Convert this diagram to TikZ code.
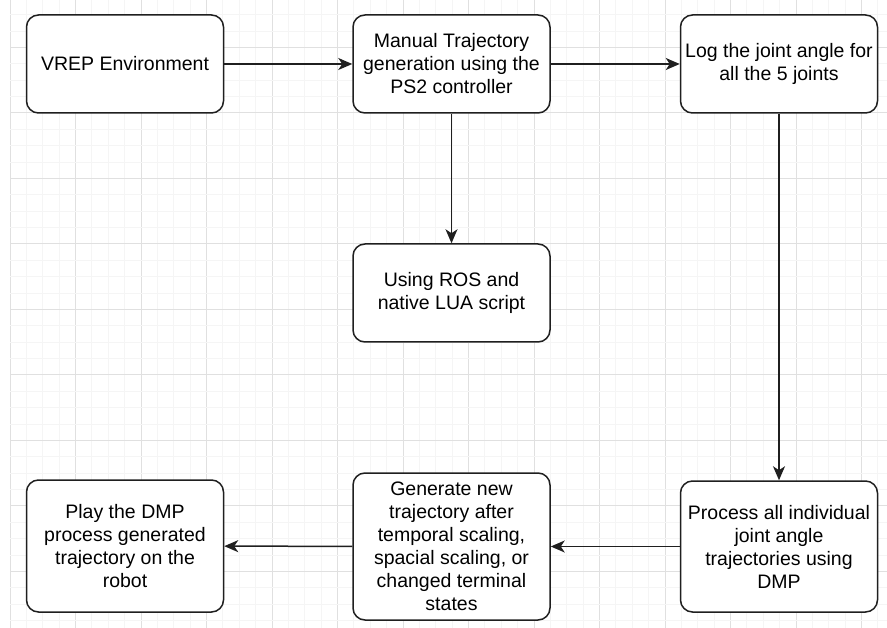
\documentclass[tikz,border=0pt]{standalone}
\usepackage{fontspec}
\setmainfont{Liberation Sans}
\usetikzlibrary{arrows.meta}
\begin{document}
\begin{tikzpicture}[x=1pt,y=-1pt,
  box/.style={draw=black!88, line width=1.5pt, rounded corners=12pt, fill=white,
    align=center, font=\fontsize{19.5}{23}\selectfont, inner sep=0pt,
    minimum width=197pt},
  flow/.style={draw=black!88, line width=1.5pt,
    -{Stealth[length=14pt,width=12pt,inset=4pt]}},
  minorline/.style={draw=black!4, line width=0.8pt},
  majorline/.style={draw=black!12, line width=0.8pt}]
\useasboundingbox (0,0) rectangle (887,628);
\fill[white] (0,0) rectangle (887,628);
% grid
\foreach \i in {0,...,53}{
  \pgfmathsetmacro{\xx}{10+\i*16.375}
  \pgfmathtruncatemacro{\mm}{mod(\i,4)}
  \ifnum\mm=0
    \draw[majorline] (\xx,0) -- (\xx,628);
  \else
    \draw[minorline] (\xx,0) -- (\xx,628);
  \fi
}
\foreach \j in {2,...,39}{
  \pgfmathsetmacro{\yy}{-18.2+\j*16.375}
  \pgfmathtruncatemacro{\mm}{mod(\j,4)}
  \ifnum\mm=0
    \draw[majorline] (10,\yy) -- (887,\yy);
  \else
    \draw[minorline] (10,\yy) -- (887,\yy);
  \fi
}
% boxes
\node[box, minimum height=98pt] (vrep) at (125,64) {VREP Environment};
\node[box, minimum height=98pt] (manual) at (451.5,64) {Manual Trajectory\\generation using the\\PS2 controller};
\node[box, minimum height=98pt] (log) at (779,64) {Log the joint angle for\\all the 5 joints};
\node[box, minimum height=98pt] (ros) at (451.5,293) {Using ROS and\\native LUA script};
\node[box, minimum height=131pt] (process) at (779,546.5) {Process all individual\\joint angle\\trajectories using\\DMP};
\node[box, minimum height=147pt] (generate) at (451.5,546.5) {Generate new\\trajectory after\\temporal scaling,\\spacial scaling, or\\changed terminal\\states};
\node[box, minimum height=132pt] (play) at (125,546) {Play the DMP\\process generated\\trajectory on the\\robot};
% connectors
\draw[flow] (vrep) -- (manual);
\draw[flow] (manual) -- (log);
\draw[flow] (manual) -- (ros);
\draw[flow] (log) -- (process);
\draw[flow] (process) -- (generate);
\draw[flow] (generate) -- (play);
\end{tikzpicture}
\end{document}
